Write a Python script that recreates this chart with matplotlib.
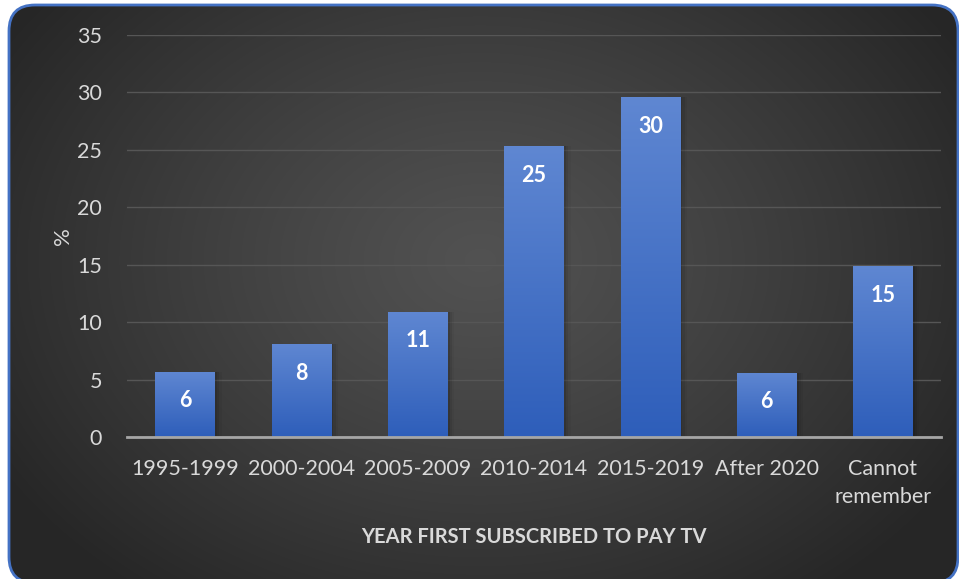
import numpy as np
import matplotlib
matplotlib.use("Agg")
import matplotlib.pyplot as plt
from matplotlib.patches import FancyBboxPatch

# Survey results: year first subscribed to pay TV (%)
categories = ["1995-1999", "2000-2004", "2005-2009", "2010-2014",
              "2015-2019", "After 2020", "Cannot\nremember"]
shares = [5.7, 8.1, 10.9, 25.3, 29.6, 5.6, 14.9]
y_ticks = [0, 5, 10, 15, 20, 25, 30, 35]

plt.rcParams["font.family"] = ["Lato", "DejaVu Sans"]
TEXT = "#D9D9D9"
W, H = 959, 579

fig = plt.figure(figsize=(W / 100, H / 100), dpi=100)
fig.patch.set_facecolor("white")

# background panel: rounded box with a radial grey gradient
bg = fig.add_axes([0, 0, 1, 1])
bg.set_xlim(0, W)
bg.set_ylim(0, H)
bg.axis("off")

yy, xx = np.mgrid[0:H, 0:W]
r = np.hypot((xx - 480) / 560, (yy - 260) / 420)
shade = 0.32 - 0.17 * np.clip(r, 0, 1) ** 1.2
img = np.dstack([shade, shade, shade])

box = FancyBboxPatch((9, -4), 949, 578, boxstyle="round,pad=0,rounding_size=26",
                     facecolor="none", edgecolor="#4472C4", linewidth=2, zorder=2)
bg.add_patch(box)
im = bg.imshow(img, extent=[0, W, 0, H], origin="upper", aspect="auto", zorder=1)
im.set_clip_path(box)

# chart area
ax = fig.add_axes([127 / W, (H - 437) / H, (941 - 127) / W, (437 - 35) / H])
ax.set_facecolor("none")
x = np.arange(len(categories))
width = 0.51

# soft shadow to the right of each bar
for dx, a in [(0.02, 0.10), (0.04, 0.07), (0.06, 0.04)]:
    ax.bar(x + dx, shares, width=width, color="black", alpha=a, zorder=2)
bars = ax.bar(x, shares, width=width, color="none", zorder=3)

grad = np.linspace(0, 1, 256).reshape(-1, 1)
top = np.array([0x5F, 0x87, 0xD2]) / 255
bottom = np.array([0x2E, 0x5E, 0xBA]) / 255
bar_img = top + (bottom - top) * grad[..., None]
bar_img = bar_img.reshape(256, 1, 3)

for b, v in zip(bars, shares):
    gi = ax.imshow(bar_img, extent=[b.get_x(), b.get_x() + b.get_width(), 0, v],
                   aspect="auto", zorder=3, origin="upper")
    gi.set_clip_path(b)
    ax.annotate(f"{v:.0f}", (b.get_x() + b.get_width() / 2, v),
                xytext=(0, -21), textcoords="offset points",
                ha="center", va="center", color="white",
                fontsize=15.5, fontweight="bold", zorder=4)

ax.set_xlim(-0.5, len(categories) - 0.5)
ax.set_ylim(0, 35)
ax.set_yticks(y_ticks)
ax.set_xticks(x)
ax.set_xticklabels(categories, linespacing=1.5)
ax.tick_params(axis="both", length=0, colors=TEXT, labelsize=15.5)
ax.tick_params(axis="y", pad=18)
ax.tick_params(axis="x", pad=16)

ax.grid(axis="y", color="#565656", linewidth=1, zorder=0)
ax.set_axisbelow(True)
for side in ["top", "right", "left"]:
    ax.spines[side].set_visible(False)
ax.spines["bottom"].set_color("#A6A6A6")
ax.spines["bottom"].set_linewidth(2)
ax.spines["bottom"].set_zorder(5)

ax.set_ylabel("%", color=TEXT, fontsize=16, labelpad=3)
ax.set_xlabel("YEAR FIRST SUBSCRIBED TO PAY TV", color=TEXT, fontsize=14.5,
              fontweight="bold", labelpad=14)

fig.savefig("out.png", dpi=100)
